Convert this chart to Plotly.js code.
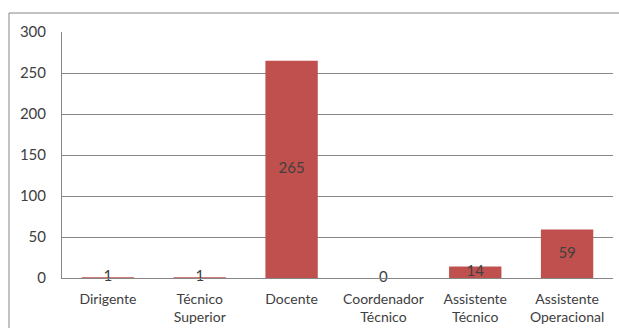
<!DOCTYPE html>
<html>
<head>
<meta charset="utf-8">
<script src="https://cdn.plot.ly/plotly-3.0.1.min.js"></script>
<style>
  html, body { margin: 0; padding: 0; background: #fff; }
  #chart { width: 619px; height: 328px; }
</style>
</head>
<body>
<div id="chart"></div>
<script>
// Staff counts by category
const categories = ['Dirigente', 'Técnico<br>Superior', 'Docente', 'Coordenador<br>Técnico', 'Assistente<br>Técnico', 'Assistente<br>Operacional'];
const counts = [1, 1, 265, 0, 14, 59];
const yTicks = [0, 50, 100, 150, 200, 250, 300];

const barColor = '#C0504D';
const textColor = '#404040';
const fontFamily = 'Lato, "Open Sans", sans-serif';

// Labels sit at the middle of each bar
const labelY = counts.map(v => v / 2);

const bars = {
  type: 'bar',
  x: categories,
  y: counts,
  marker: { color: barColor, line: { width: 0 } },
  hoverinfo: 'skip',
  showlegend: false
};

const labels = {
  type: 'scatter',
  mode: 'text',
  x: categories,
  y: labelY,
  text: counts.map(String),
  textposition: 'middle center',
  textfont: { family: fontFamily, size: 15, color: textColor },
  hoverinfo: 'skip',
  showlegend: false,
  cliponaxis: false
};

const layout = {
  width: 619,
  height: 328,
  margin: { l: 62, r: 6, t: 32, b: 50 },
  paper_bgcolor: '#ffffff',
  plot_bgcolor: '#ffffff',
  bargap: 0.43,
  font: { family: fontFamily, color: textColor },
  xaxis: {
    type: 'category',
    showgrid: false,
    showline: true,
    linecolor: '#868686',
    linewidth: 1,
    ticks: '',
    ticklabelstandoff: 8,
    tickfont: { family: fontFamily, size: 14, color: textColor },
    fixedrange: true
  },
  yaxis: {
    range: [0, 300],
    tickvals: yTicks,
    ticktext: yTicks.map(String),
    showgrid: true,
    gridcolor: '#878787',
    gridwidth: 1,
    zeroline: false,
    showline: true,
    linecolor: '#878787',
    ticks: '',
    ticklabelstandoff: 12,
    tickfont: { family: fontFamily, size: 15, color: textColor },
    fixedrange: true
  },
  shapes: [
    {
      type: 'rect',
      xref: 'paper', yref: 'paper',
      x0: -0.0962, x1: 1.05,
      y0: -0.3, y1: 1.0772,
      line: { color: '#868686', width: 1 },
      fillcolor: 'rgba(0,0,0,0)',
      layer: 'below'
    }
  ]
};

Plotly.newPlot('chart', [bars, labels], layout, { staticPlot: true, displayModeBar: false });
</script>
</body>
</html>
